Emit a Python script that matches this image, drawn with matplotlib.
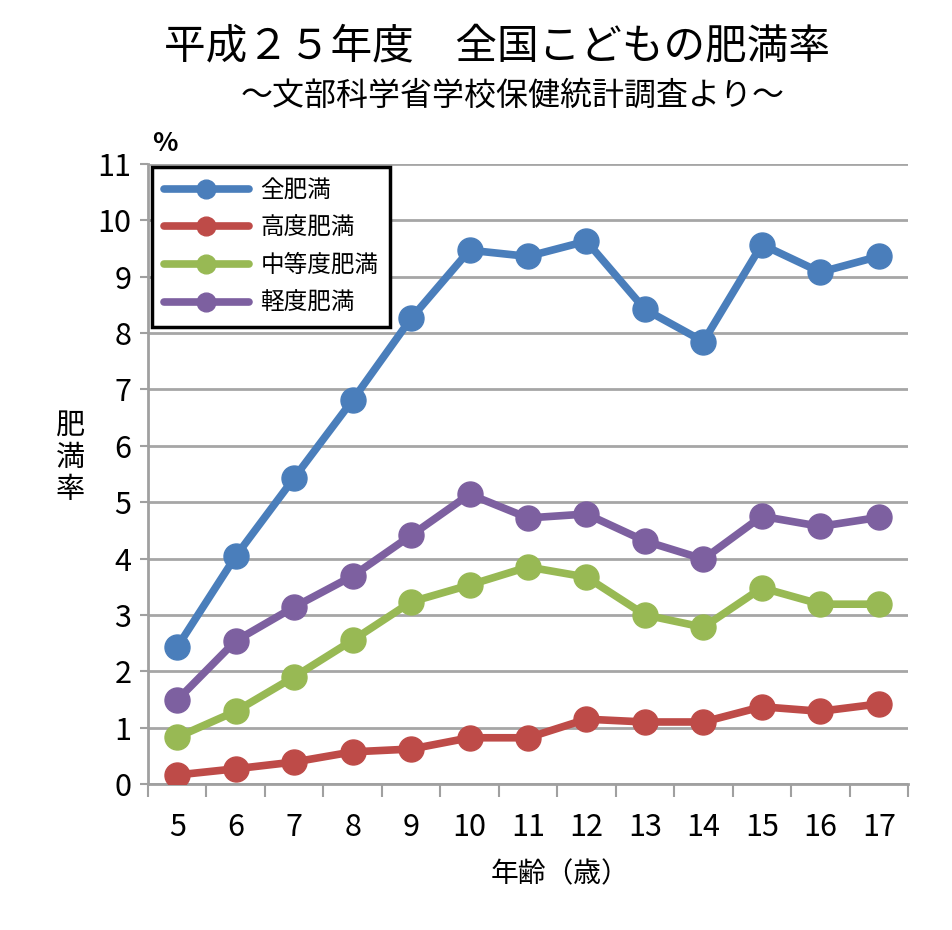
import matplotlib
matplotlib.use("Agg")
import matplotlib.pyplot as plt
import numpy as np

plt.rcParams['font.family'] = ['Noto Sans CJK JP', 'DejaVu Sans']

ages = [5, 6, 7, 8, 9, 10, 11, 12, 13, 14, 15, 16, 17]
zen = [2.43, 4.04, 5.43, 6.81, 8.26, 9.47, 9.36, 9.63, 8.42, 7.85, 9.57, 9.08, 9.36]
koudo = [0.16, 0.27, 0.39, 0.57, 0.62, 0.82, 0.82, 1.15, 1.10, 1.10, 1.37, 1.29, 1.42]
chutou = [0.83, 1.29, 1.90, 2.55, 3.23, 3.53, 3.85, 3.67, 3.00, 2.78, 3.48, 3.19, 3.19]
keido = [1.49, 2.54, 3.14, 3.69, 4.41, 5.14, 4.72, 4.79, 4.31, 3.99, 4.75, 4.57, 4.73]

series = [
    ("全肥満", zen, "#4a7ebb"),
    ("高度肥満", koudo, "#be4b48"),
    ("中等度肥満", chutou, "#98b954"),
    ("軽度肥満", keido, "#7d60a0"),
]

fig = plt.figure(figsize=(9.53, 9.30), dpi=100)
ax = fig.add_axes([0.1553, 0.157, 0.7975, 0.6667])

x = np.arange(len(ages))
for name, vals, col in series:
    ax.plot(x, vals, color=col, lw=5.5, marker='o', ms=18, label=name,
            solid_capstyle='round', zorder=3)

ax.set_xlim(-0.5, len(ages) - 0.5)
ax.set_ylim(0, 11)
ax.set_yticks(range(0, 12))
ax.set_xticks(np.arange(-0.5, len(ages)), minor=False)
ax.set_xticklabels([])
ax.set_xticks(x, minor=True)
ax.set_xticklabels([str(a) for a in ages], minor=True)
ax.tick_params(axis='x', which='major', length=9, width=1.5, color='#a0a0a0')
ax.tick_params(axis='x', which='minor', length=0, pad=20, labelsize=22)
ax.tick_params(axis='y', length=6, width=1.5, color='#a0a0a0', labelsize=22, pad=6)
ax.grid(axis='y', color='#a6a6a6', lw=2)
ax.set_axisbelow(True)
for s in ['top', 'right']:
    ax.spines[s].set_visible(False)
for s in ['left', 'bottom']:
    ax.spines[s].set_color('#a0a0a0')
    ax.spines[s].set_linewidth(2)

leg = ax.legend(loc='upper left', bbox_to_anchor=(0.005, 0.995), fontsize=17,
                frameon=True, fancybox=False, handlelength=3.6, borderpad=0.5,
                labelspacing=0.62, handletextpad=0.5, borderaxespad=0,
                markerscale=0.75)
leg.get_frame().set_edgecolor('black')
leg.get_frame().set_linewidth(2.5)
leg.get_frame().set_alpha(1)

fig.text(0.522, 0.950, "平成２５年度　全国こどもの肥満率", ha='center', va='center', fontsize=30)
fig.text(0.538, 0.897, "～文部科学省学校保健統計調査より～", ha='center', va='center', fontsize=23)
fig.text(0.173, 0.846, "%", ha='center', va='center', fontsize=19, fontweight='bold')
fig.text(0.074, 0.508, "肥\n満\n率", ha='center', va='center', fontsize=21, linespacing=1.1)
fig.text(0.588, 0.060, "年齢（歳）", ha='center', va='center', fontsize=20)

fig.savefig("out.png", dpi=100)
